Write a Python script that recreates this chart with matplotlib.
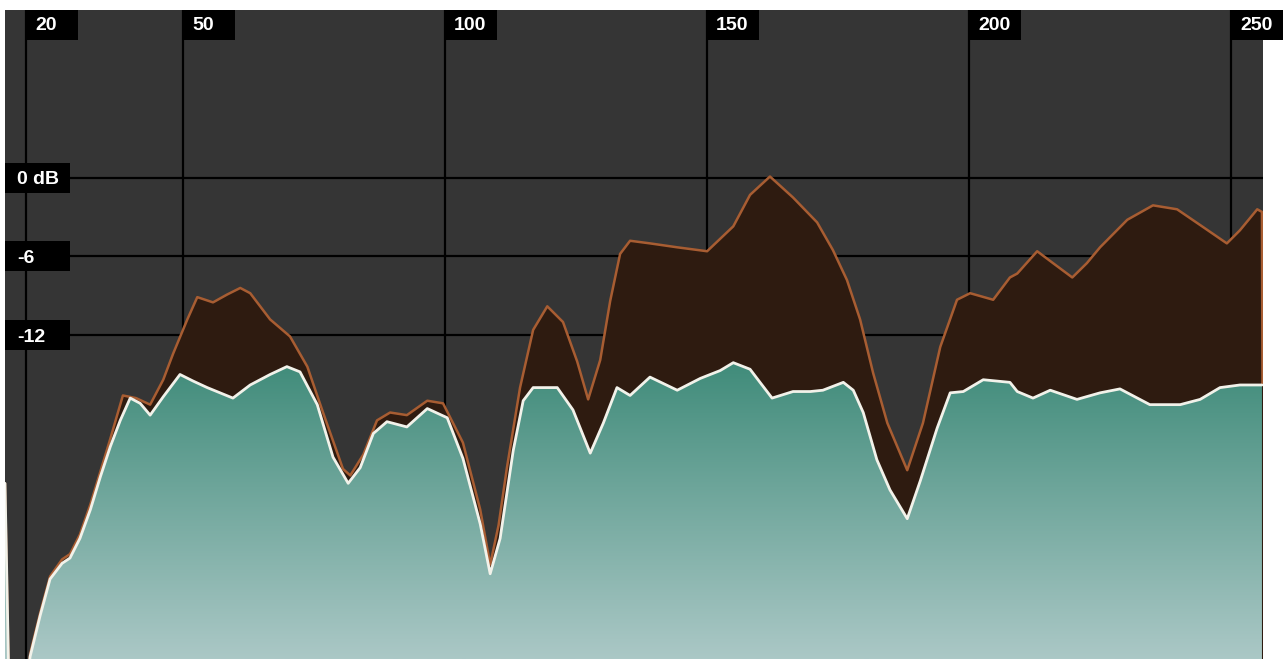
import numpy as np
import matplotlib
matplotlib.use("Agg")
import matplotlib.pyplot as plt
from matplotlib.colors import LinearSegmentedColormap
from matplotlib.patches import Rectangle

# inner (teal) response, Hz / dB
freq_in = [16.0, 16.8, 20.2, 20.8, 22.7, 24.6, 26.9, 28.4, 30.3, 32.3, 34.2, 36.1,
           38.0, 39.9, 41.8, 43.7, 46.2, 49.4, 51.9, 54.6, 59.5, 62.8, 66.6, 69.8,
           72.3, 75.6, 78.6, 81.5, 83.8, 86.3, 88.9, 92.7, 96.6, 100.4, 103.4, 106.7,
           108.6, 110.5, 113.0, 114.9, 116.8, 121.4, 124.4, 127.7, 130.2, 132.8, 135.3,
           139.1, 144.3, 148.7, 152.5, 155.0, 158.2, 160.1, 162.4, 166.4, 169.7, 172.1,
           176.0, 177.9, 179.8, 182.4, 184.9, 188.2, 190.7, 193.9, 196.4, 198.9, 202.7,
           207.8, 209.2, 212.2, 215.5, 220.6, 225.0, 228.8, 234.5, 240.3, 244.1, 247.9,
           251.7, 255.9]
level_in = [-23.3, -39.8, -38.3, -36.5, -33.4, -30.6, -29.4, -29.0, -27.5, -25.3, -22.8, -20.5,
            -18.5, -16.8, -17.2, -18.1, -16.7, -15.0, -15.5, -16.0, -16.8, -15.8, -15.0, -14.4,
            -14.8, -17.3, -21.3, -23.3, -22.1, -19.5, -18.6, -19.0, -17.6, -18.3, -21.4, -26.4,
            -30.2, -27.5, -20.8, -17.0, -16.0, -16.0, -17.7, -21.0, -18.7, -16.0, -16.6,
            -15.2, -16.2, -15.3, -14.7, -14.1, -14.6, -15.6, -16.8, -16.3, -16.3, -16.2,
            -15.6, -16.2, -17.9, -21.5, -23.8, -26.0, -23.1, -19.1, -16.4, -16.3, -15.4,
            -15.6, -16.3, -16.8, -16.2, -16.9, -16.4, -16.1, -17.3, -17.3, -16.9, -16.0,
            -15.8, -15.8]

# outer (brown) response, Hz / dB
freq_out = [16.0, 16.8, 20.2, 20.8, 22.7, 24.6, 26.9, 28.4, 30.3, 32.3, 34.2, 36.1,
            38.5, 41.0, 43.7, 46.2, 48.1, 50.8, 52.7, 55.7, 58.4, 60.9, 62.8, 66.6,
            70.4, 73.7, 76.7, 80.5, 81.9, 84.4, 87.0, 89.5, 92.7, 96.6, 99.6, 103.4,
            106.7, 108.6, 110.2, 111.8, 114.3, 116.8, 119.5, 122.5, 125.2, 127.3, 129.6,
            131.5, 133.4, 135.3, 139.1, 144.3, 150.0, 155.0, 158.2, 162.0, 166.4, 171.0,
            174.0, 176.7, 179.2, 181.7, 184.4, 188.2, 191.2, 194.5, 197.7, 200.2, 204.6,
            207.8, 209.2, 213.0, 216.0, 219.7, 222.5, 225.0, 230.2, 235.1, 239.7, 244.1,
            249.2, 251.7, 255.0, 255.9, 256.0]
level_out = [-23.3, -39.8, -38.3, -36.3, -33.2, -30.4, -29.1, -28.7, -27.2, -24.9, -22.4, -19.9,
             -16.6, -16.8, -17.3, -15.4, -13.4, -10.8, -9.1, -9.5, -8.9, -8.4, -8.8, -10.8,
             -12.1, -14.4, -17.9, -22.2, -22.7, -21.1, -18.5, -17.9, -18.1, -17.0, -17.2, -20.2,
             -25.3, -29.5, -26.5, -22.1, -16.0, -11.6, -9.8, -11.0, -14.0, -16.9, -13.9,
             -9.4, -5.8, -4.8, -5.0, -5.3, -5.6, -3.7, -1.3, 0.1, -1.5, -3.4,
             -5.5, -7.8, -10.8, -14.9, -18.7, -22.3, -18.7, -12.9, -9.3, -8.8, -9.3,
             -7.6, -7.3, -5.6, -6.5, -7.6, -6.5, -5.3, -3.2, -2.1, -2.4, -3.6,
             -5.0, -4.0, -2.4, -2.6, -15.8]

freq_ticks = [20, 50, 100, 150, 200, 250]
freq_labels = ['20', '50', '100', '150', '200', '250']
db_ticks = [0, -6, -12]
db_labels = ['0 dB', '-6', '-12']

xmin, xmax = 16.0, 256.1
ymin, ymax = -36.7, 12.8

fig = plt.figure(figsize=(12.84, 6.59), dpi=100, facecolor='white')
ax = fig.add_axes([5 / 1284, 0, 1258 / 1284, 649 / 659])
ax.set_facecolor('#353535')
for s in ax.spines.values():
    s.set_visible(False)
ax.set_xticks([])
ax.set_yticks([])

# size of one pixel in data units
px_x = (xmax - xmin) / 1258
px_y = (ymax - ymin) / 649

for t in freq_ticks:
    ax.axvline(t, color='black', lw=1.6, zorder=1)
for d in db_ticks:
    ax.axhline(d, color='black', lw=1.6, zorder=1)

# outer area
ax.fill_between(freq_out, level_out, ymin - 5, color='#2e1b10', lw=0, zorder=2)
ax.plot(freq_out, level_out, color='#a85d32', lw=1.8, zorder=3,
        solid_joinstyle='round', solid_capstyle='round')

# inner area with vertical gradient
poly = ax.fill_between(freq_in, level_in, ymin - 5, color='none', lw=0, zorder=4)
cmap = LinearSegmentedColormap.from_list('teal', ['#abc8c6', '#3d8a78'])
grad = np.linspace(0, 1, 256).reshape(-1, 1)
im = ax.imshow(grad, extent=[xmin, xmax, ymin, -13.5], origin='lower', aspect='auto',
               cmap=cmap, zorder=4, interpolation='bilinear')
im.set_clip_path(poly.get_paths()[0], transform=ax.transData)
ax.plot(freq_in, level_in, color='#f2f2ea', lw=2.0, zorder=5,
        solid_joinstyle='round', solid_capstyle='round')

# label boxes
font = dict(color='white', fontweight='bold', fontsize=14, family='Liberation Sans',
            va='center', ha='left', zorder=7)
for t, lab in zip(freq_ticks, freq_labels):
    ax.add_patch(Rectangle((t, ymax - 30 * px_y), 52 * px_x, 30 * px_y,
                           fc='black', lw=0, zorder=6, clip_on=False))
    ax.text(t + 9 * px_x, ymax - 16 * px_y, lab, clip_on=False, **font)
for d, lab in zip(db_ticks, db_labels):
    ax.add_patch(Rectangle((xmin, d - 15 * px_y), 65 * px_x, 30 * px_y,
                           fc='black', lw=0, zorder=6, clip_on=False))
    ax.text(xmin + 12 * px_x, d - 2 * px_y, lab, **font)

ax.set_xlim(xmin, xmax)
ax.set_ylim(ymin, ymax)

fig.savefig('out.png', dpi=100, facecolor='white')
